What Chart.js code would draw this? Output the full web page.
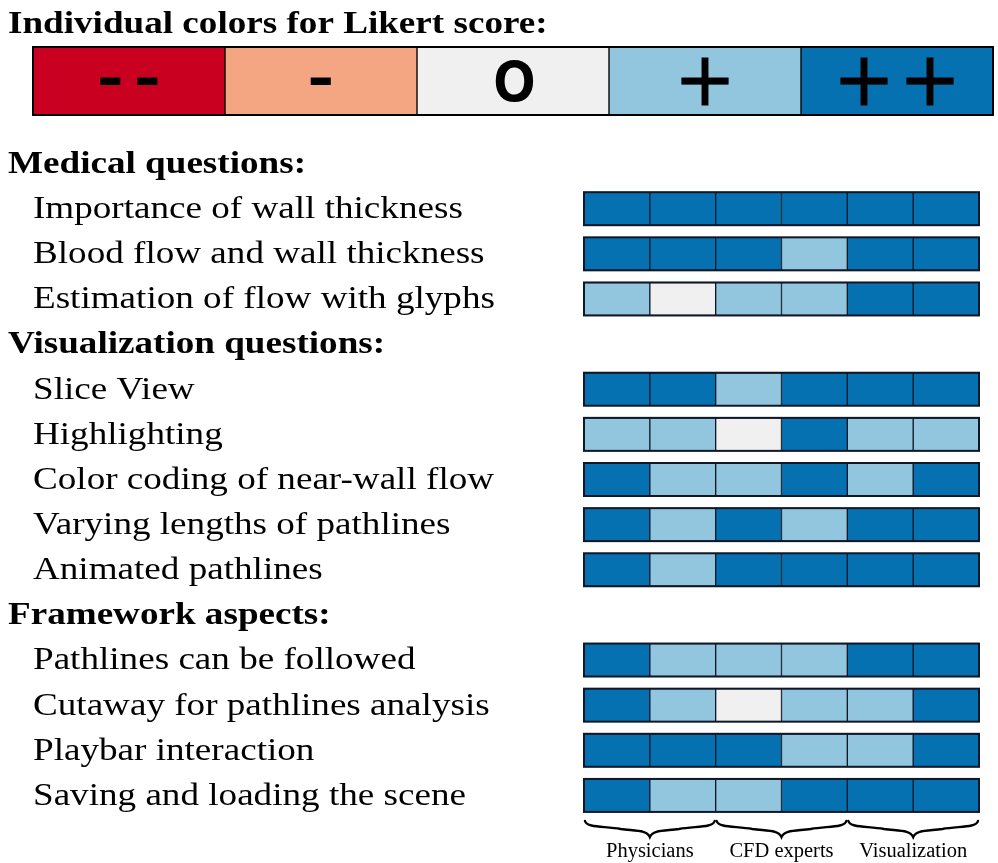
<!DOCTYPE html>
<html>
<head>
<meta charset="utf-8">
<script src="https://cdn.jsdelivr.net/npm/chart.js@4"></script>
<style>
  html, body { margin: 0; padding: 0; background: #ffffff; }
  #wrap { position: relative; width: 998px; height: 863px; overflow: hidden; }
  #legendBox { position: absolute; left: 0; top: 0; width: 998px; height: 125px; }
  #heatBox { position: absolute; left: 0; top: 125px; width: 998px; height: 738px; }
</style>
</head>
<body>
<div id="wrap">
  <div id="legendBox"><canvas id="legendChart"></canvas></div>
  <div id="heatBox"><canvas id="heatChart"></canvas></div>
</div>
<script>
// ---------------- data ----------------
const titleText = 'Individual colors for Likert score:';
const likertSymbols = ['--', '-', 'o', '+', '++'];          // score 1..5
const likertColors  = ['#ca0020', '#f4a582', '#f0f0f0', '#92c5de', '#0571b0'];

const groupLabels = ['Physicians', 'CFD experts', 'Visualization']; // two participants each

const rowLabels = [
  'Medical questions:',
  'Importance of wall thickness',
  'Blood flow and wall thickness',
  'Estimation of flow with glyphs',
  'Visualization questions:',
  'Slice View',
  'Highlighting',
  'Color coding of near-wall flow',
  'Varying lengths of pathlines',
  'Animated pathlines',
  'Framework aspects:',
  'Pathlines can be followed',
  'Cutaway for pathlines analysis',
  'Playbar interaction',
  'Saving and loading the scene'
];

// Likert scores (1 = --, 5 = ++) of the six participants
const importanceWallThickness = [5, 5, 5, 5, 5, 5];
const bloodFlowWallThickness  = [5, 5, 5, 4, 5, 5];
const estimationFlowGlyphs    = [4, 3, 4, 4, 5, 5];
const sliceView               = [5, 5, 4, 5, 5, 5];
const highlighting            = [4, 4, 3, 5, 4, 4];
const colorCodingNearWall     = [5, 4, 4, 5, 4, 5];
const varyingLengths          = [5, 4, 5, 4, 5, 5];
const animatedPathlines       = [5, 4, 5, 5, 5, 5];
const pathlinesFollowed       = [5, 4, 4, 4, 5, 5];
const cutawayAnalysis         = [5, 4, 3, 4, 4, 5];
const playbarInteraction      = [5, 5, 5, 4, 4, 5];
const savingLoadingScene      = [5, 4, 4, 5, 5, 5];

const rowScores = [
  null,
  importanceWallThickness, bloodFlowWallThickness, estimationFlowGlyphs,
  null,
  sliceView, highlighting, colorCodingNearWall, varyingLengths, animatedPathlines,
  null,
  pathlinesFollowed, cutawayAnalysis, playbarInteraction, savingLoadingScene
];
const participantCount = 6;

// ---------------- styles ----------------
const SERIF = '"Liberation Serif", "Times New Roman", serif';
const edgeColor = '#101828';
const textStretch = 1.16;

function stretchedText(ctx, text, x, y) {
  ctx.save();
  ctx.translate(x, y);
  ctx.scale(textStretch, 1);
  ctx.fillText(text, 0, 0);
  ctx.restore();
}

// draw a glyph with its ink box centred on (cx, cy), optionally emboldened
function centeredGlyph(ctx, glyph, cx, cy, weight) {
  ctx.textAlign = 'left';
  ctx.textBaseline = 'alphabetic';
  const m = ctx.measureText(glyph);
  const w = m.actualBoundingBoxRight + m.actualBoundingBoxLeft;
  const h = m.actualBoundingBoxAscent + m.actualBoundingBoxDescent;
  const x = cx - w / 2 + m.actualBoundingBoxLeft;
  const y = cy - h / 2 + m.actualBoundingBoxAscent;
  ctx.fillText(glyph, x, y);
  if (weight) {
    ctx.lineWidth = weight;
    ctx.lineJoin = 'miter';
    ctx.strokeStyle = '#000000';
    ctx.strokeText(glyph, x, y);
  }
}

// ---------------- legend chart ----------------
const legendDatasets = likertSymbols.map((sym, i) => ({
  label: sym,
  data: [1],
  backgroundColor: likertColors[i],
  borderColor: '#000000',
  borderWidth: 1,
  borderSkipped: false,
  barPercentage: 1,
  categoryPercentage: 1
}));

const legendPlugin = {
  id: 'legendDecor',
  afterDatasetsDraw(chart) {
    const ctx = chart.ctx;
    const area = chart.chartArea;
    ctx.save();
    ctx.strokeStyle = '#000000';
    ctx.lineWidth = 2;
    ctx.strokeRect(area.left, area.top, area.right - area.left, area.bottom - area.top);
    ctx.fillStyle = '#000000';
    chart.data.datasets.forEach((ds, i) => {
      const c = chart.getDatasetMeta(i).data[0].getCenterPoint();
      const sym = ds.label;
      if (sym === 'o') {
        ctx.font = '70px "DejaVu Sans"';
        centeredGlyph(ctx, sym, c.x + 1, c.y, 2.2);
      } else {
        const glyph = sym.charAt(0);
        const isMinus = glyph === '-';
        ctx.font = isMinus ? '68px "DejaVu Sans"' : '74px "DejaVu Sans"';
        const weight = isMinus ? 2.2 : 0.8;
        if (sym.length === 1) {
          centeredGlyph(ctx, glyph, c.x, c.y, weight);
        } else {
          const off = isMinus ? 18.5 : 33;
          centeredGlyph(ctx, glyph, c.x - off, c.y, weight);
          centeredGlyph(ctx, glyph, c.x + off, c.y, weight);
        }
      }
    });
    ctx.restore();
  },
  afterDraw(chart) {
    const ctx = chart.ctx;
    ctx.save();
    ctx.fillStyle = '#000000';
    ctx.font = 'bold 32px ' + SERIF;
    ctx.textAlign = 'left';
    ctx.textBaseline = 'alphabetic';
    stretchedText(ctx, titleText, 8, 33);
    ctx.restore();
  }
};

new Chart(document.getElementById('legendChart'), {
  type: 'bar',
  data: { labels: ['Likert'], datasets: legendDatasets },
  options: {
    indexAxis: 'y',
    responsive: true,
    maintainAspectRatio: false,
    animation: false,
    layout: { padding: { left: 33, right: 5, top: 47, bottom: 10 } },
    scales: {
      x: { type: 'linear', min: 0, max: likertSymbols.length, stacked: true, display: false },
      y: { type: 'category', stacked: true, display: false }
    },
    plugins: { legend: { display: false }, tooltip: { enabled: false }, title: { display: false } }
  },
  plugins: [legendPlugin]
});

// ---------------- heat chart ----------------
const heatDatasets = [];
for (let p = 0; p < participantCount; p++) {
  heatDatasets.push({
    label: 'Participant ' + (p + 1),
    data: rowScores.map(r => (r ? 1 : null)),
    backgroundColor: ctx => {
      const r = rowScores[ctx.dataIndex];
      return r ? likertColors[r[p] - 1] : 'rgba(0,0,0,0)';
    },
    borderColor: edgeColor,
    borderWidth: 1,
    borderSkipped: false,
    barThickness: 33
  });
}

const heatPlugin = {
  id: 'heatDecor',
  afterDatasetsDraw(chart) {
    const ctx = chart.ctx;
    const y = chart.scales.y;
    const x = chart.scales.x;
    ctx.save();
    // row frames
    ctx.strokeStyle = edgeColor;
    ctx.lineWidth = 2;
    rowScores.forEach((r, i) => {
      if (!r) return;
      const cy = y.getPixelForValue(i);
      const x0 = x.getPixelForValue(0), x1 = x.getPixelForValue(participantCount);
      ctx.strokeRect(x0, cy - 16.5, x1 - x0, 33);
    });
    // row labels
    ctx.fillStyle = '#000000';
    ctx.textAlign = 'left';
    ctx.textBaseline = 'middle';
    chart.data.labels.forEach((lab, i) => {
      const header = !rowScores[i];
      ctx.font = (header ? 'bold 32px ' : '32px ') + SERIF;
      stretchedText(ctx, lab, header ? 8 : 33, y.getPixelForValue(i) + 1);
    });
    // braces under the participant groups
    const top = chart.chartArea.bottom + 3;
    const ym = top + 8;
    const tip = top + 16;
    ctx.lineWidth = 2.4;
    ctx.strokeStyle = '#000000';
    ctx.lineCap = 'round';
    const per = participantCount / groupLabels.length;
    groupLabels.forEach((g, k) => {
      const xa = x.getPixelForValue(k * per) + 1;
      const xb = x.getPixelForValue((k + 1) * per) - 1;
      const xc = (xa + xb) / 2;
      const w = (xc - xa);
      ctx.beginPath();
      ctx.moveTo(xa, top);
      ctx.bezierCurveTo(xa + 2, ym - 1, xa + w * 0.3, ym - 3, xa + w * 0.55, ym);
      ctx.bezierCurveTo(xc - w * 0.2, ym + 2, xc - 3, ym + 1, xc, tip);
      ctx.bezierCurveTo(xc + 3, ym + 1, xc + w * 0.2, ym + 2, xb - w * 0.55, ym);
      ctx.bezierCurveTo(xb - w * 0.3, ym - 3, xb - 2, ym - 1, xb, top);
      ctx.stroke();
    });
    ctx.restore();
  }
};

new Chart(document.getElementById('heatChart'), {
  type: 'bar',
  data: { labels: rowLabels, datasets: heatDatasets },
  options: {
    indexAxis: 'y',
    responsive: true,
    maintainAspectRatio: false,
    animation: false,
    layout: { padding: { left: 584, right: 19, top: 16, bottom: 0 } },
    scales: {
      x: { type: 'linear', min: 0, max: participantCount, stacked: true, display: false },
      y: { type: 'category', stacked: true, display: false },
      groups: {
        type: 'category',
        axis: 'x',
        position: 'bottom',
        labels: groupLabels,
        offset: true,
        grid: { display: false, drawTicks: false },
        border: { display: false },
        afterFit: scale => { scale.height = 45; },
        ticks: { color: '#000000', font: { family: SERIF, size: 20.5 }, padding: 21, maxRotation: 0, autoSkip: false }
      }
    },
    plugins: { legend: { display: false }, tooltip: { enabled: false }, title: { display: false } }
  },
  plugins: [heatPlugin]
});
</script>
</body>
</html>
